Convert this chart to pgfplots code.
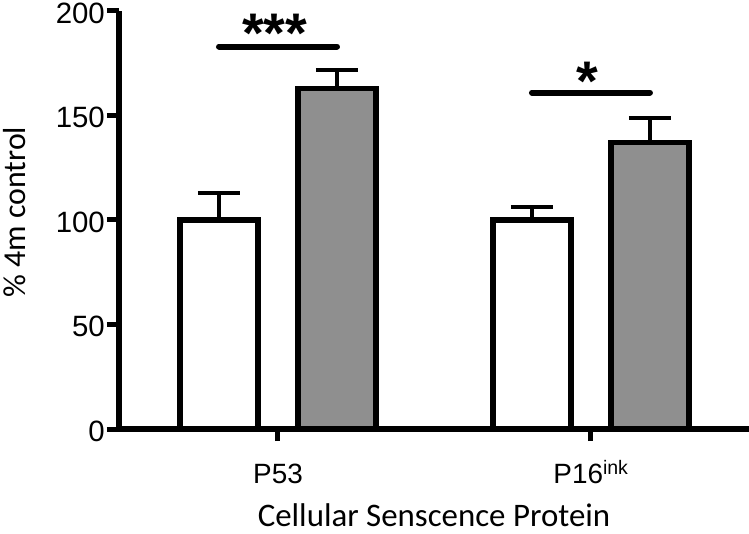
\documentclass[border=0pt]{standalone}
\usepackage{fontspec}
\setmainfont{Liberation Sans}
\newfontfamily\calibri{Carlito}
\usepackage{pgfplots}
\pgfplotsset{compat=1.18}
\definecolor{bargray}{RGB}{143,143,143}

\pgfplotsset{
    frame/.style={
        scale only axis,
        width=630bp, height=418bp,
        xmin=-0.508, xmax=1.505,
        ymin=0, ymax=200,
        clip=false,
    },
}

\begin{document}
\begin{tikzpicture}
\path[use as bounding box] (-119bp,-105bp) rectangle (630bp,429bp);
\begin{axis}[
    frame,
    ybar=40bp, bar width=78bp,
    axis x line*=bottom, axis y line*=left,
    axis line style={line width=6bp},
    xtick={0,1},
    xticklabels={P53, P16\textsuperscript{ink}},
    ytick={0,50,100,150,200},
    tick align=outside,
    major tick length=12bp,
    major tick style={line width=5bp, black},
    /pgf/number format/assume math mode=true,
    yticklabel style={font=\fontsize{29.5}{29.5}\selectfont, anchor=east, inner sep=0pt, xshift=-2bp, yshift=-2bp},
    xticklabel style={font=\fontsize{28}{28}\selectfont, anchor=base, inner sep=0pt, yshift=-42bp},
    xlabel={Cellular Senscence Protein},
    xlabel style={at={(axis description cs:0.5,0)}, anchor=base, inner sep=0pt, yshift=-97bp,
                  font=\calibri\fontsize{33}{33}\selectfont},
    ylabel={\% 4m control},
    ylabel style={at={(axis description cs:-0.184,0.519)}, anchor=north, inner sep=0pt,
                  font=\calibri\fontsize{32}{32}\selectfont},
    error bars/error bar style={line width=4bp, black},
    error bars/error mark options={rotate=90, line width=4bp, mark size=21bp, black},
]
% 4m control (white)
\addplot[fill=white, draw=black, line width=5.5bp,
    error bars/.cd, y dir=plus, y explicit]
    coordinates {(0,100) +- (0,13) (1,100) +- (0,6)};
% treated (grey)
\addplot[fill=bargray, draw=black, line width=5.5bp,
    error bars/.cd, y dir=plus, y explicit]
    coordinates {(0,163) +- (0,9) (1,137) +- (0,12)};
\end{axis}
% significance bars, same frame without the bar handler
\begin{axis}[frame, hide axis]
\addplot[sharp plot, no markers, black, line width=6bp, line cap=round]
    coordinates {(-0.1885,183) (0.1885,183)};
\addplot[sharp plot, no markers, black, line width=6bp, line cap=round]
    coordinates {(0.8115,161) (1.1885,161)};
\node[font=\bfseries\fontsize{56}{56}\selectfont, anchor=base, inner sep=0pt] at (axis cs:-0.01,180) {***};
\node[font=\bfseries\fontsize{56}{56}\selectfont, anchor=base, inner sep=0pt] at (axis cs:0.99,157) {*};
\end{axis}
\end{tikzpicture}
\end{document}
